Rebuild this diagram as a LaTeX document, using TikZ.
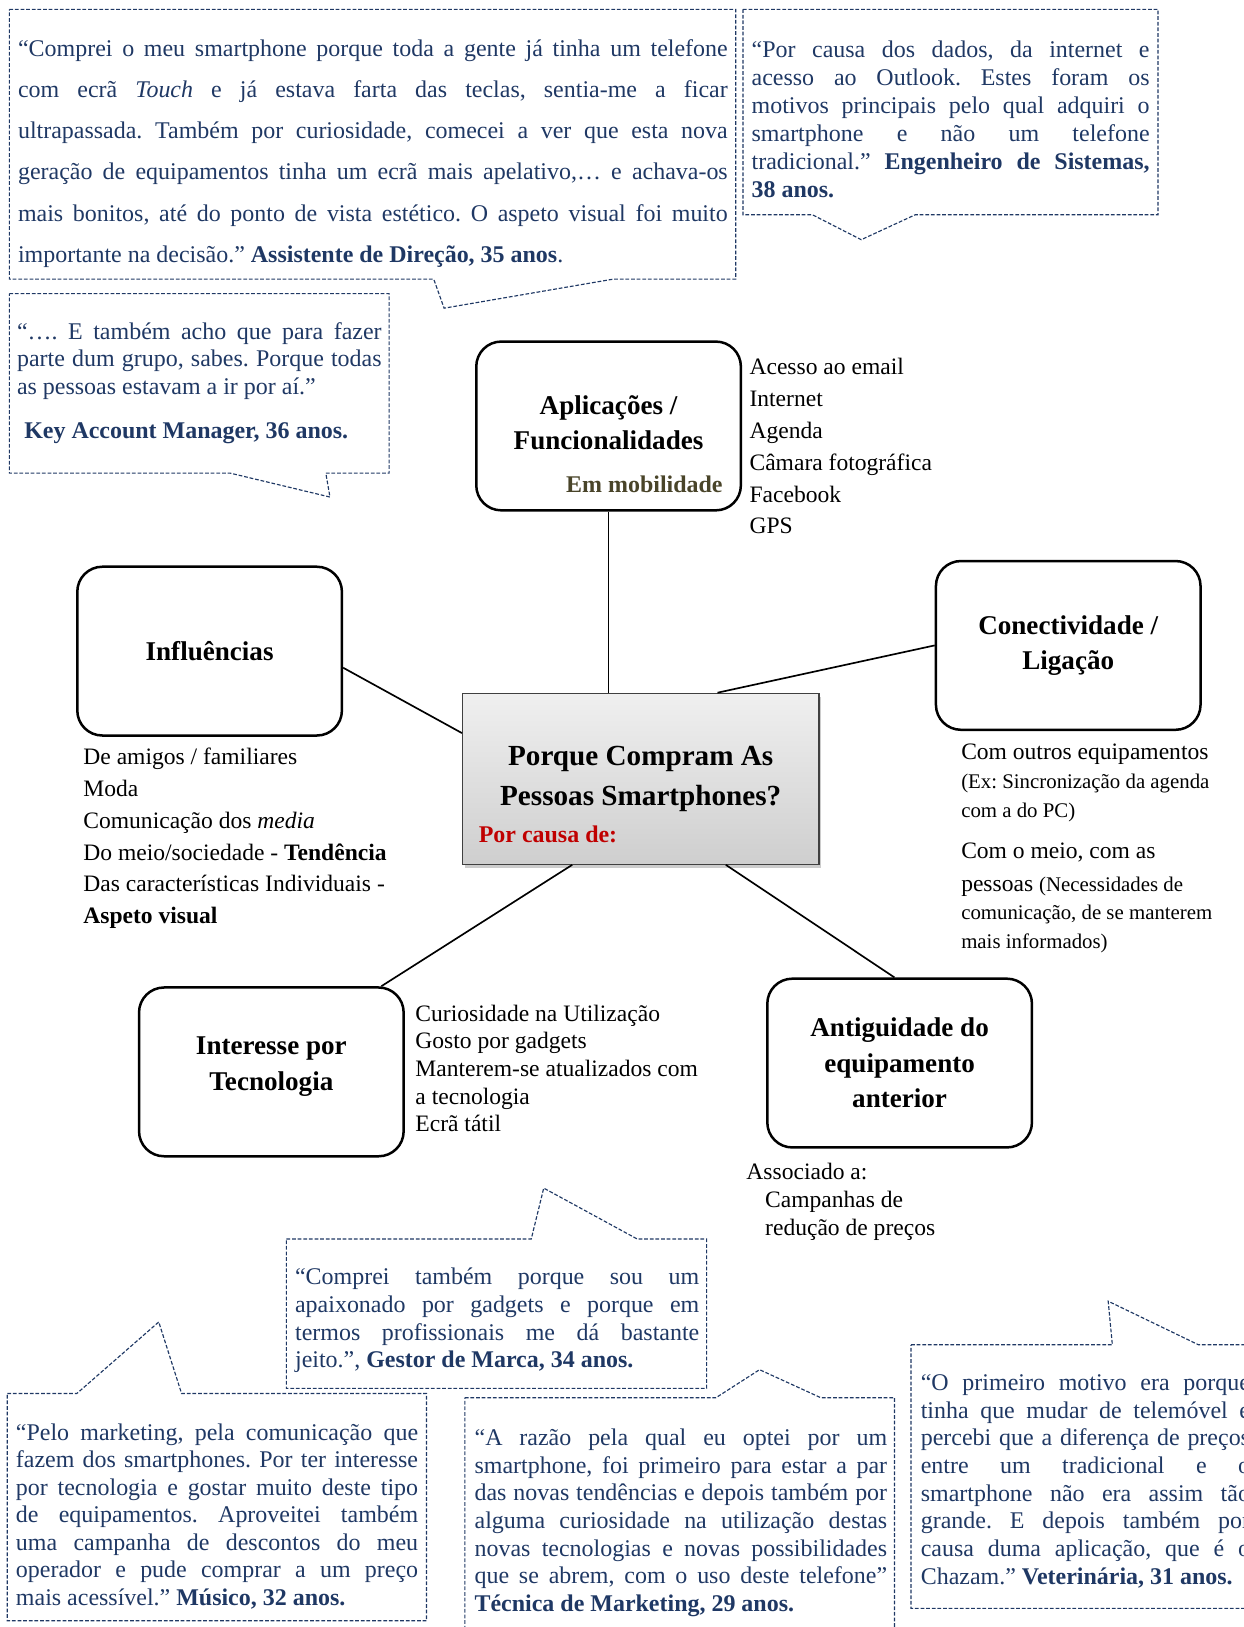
\documentclass[tikz,border=0pt]{standalone}
\usepackage{fontspec}
\setmainfont{Liberation Serif}
\usepackage{xcolor}
\usepackage{tikz}
\usetikzlibrary{positioning, shadows}
\definecolor{quoteblue}{RGB}{31,56,100}
\definecolor{olivetext}{RGB}{73,68,41}
\definecolor{causered}{RGB}{192,0,0}
\frenchspacing
\hyphenpenalty=10000
\exhyphenpenalty=10000
\hbadness=10000
\newcommand{\notefont}{\fontsize{10}{14}\selectfont}
\tikzset{
  topic/.style={draw, line width=1.2pt, rounded corners=12pt, align=center,
                font=\fontsize{13}{17}\selectfont\bfseries,
                minimum width=127pt, minimum height=81pt},
  hubbox/.style={draw=black!75, line width=0.6pt, top color=gray!12, bottom color=gray!38,
                 align=center, font=\fontsize{14}{19}\selectfont\bfseries,
                 minimum width=171pt, minimum height=82pt,
                 drop shadow={shadow xshift=1.2pt, shadow yshift=-1.6pt, opacity=0.4}},
  itemlist/.style={anchor=base west, align=flush left, inner sep=0pt, text width=200pt},
  bubble/.style={draw=quoteblue, line width=0.55pt, dash pattern=on 1.8pt off 0.9pt},
  quotetext/.style={anchor=base west, align=justify, inner sep=0pt, text=quoteblue,
                    font=\fontsize{11.5}{13.3}\selectfont},
  linkline/.style={line width=0.8pt}
}

\begin{document}
\begin{tikzpicture}[x=0.498pt, y=-0.498pt]
\useasboundingbox (0,0) rectangle (1198,1568);

% Central question
\node[hubbox] (hub) at (617.5,750.5) {Porque Compram As\\Pessoas Smartphones?};
\node[anchor=base west, inner sep=0pt, text=causered, font=\fontsize{11.5}{14}\selectfont\bfseries]
  (cause) at (461,812) {Por causa de:};

% Topics
\node[topic, text depth=3pt] (apps) at (586.5,410.5) {Aplicações /\\Funcionalidades};
\node[anchor=base, inner sep=0pt, text=olivetext, font=\fontsize{11.5}{14}\selectfont\bfseries]
  (mobil) at (621,475) {Em mobilidade};
\node[topic] (infl)     at (202,627.5)   {Influências};
\node[topic] (conect)   at (1029.5,622)  {Conectividade /\\Ligação};
\node[topic, text depth=8pt] (interest) at (261.5,1033) {Interesse por\\Tecnologia};
\node[topic] (antig)    at (867,1024.5)  {Antiguidade do\\equipamento\\anterior};

% Links
\draw[linkline] (apps.south) -- (apps.south |- hub.north);
\draw[linkline] ([shift={(0,16)}]infl.east) -- ([shift={(0,-44)}]hub.west);
\draw[linkline] (conect.west) -- ([shift={(74,0)}]hub.north);
\draw[linkline] ([shift={(106,0)}]interest.north) -- ([shift={(-66,0)}]hub.south);
\draw[linkline] ([shift={(-5,0)}]antig.north) -- ([shift={(82,0)}]hub.south);

% Topic details
\node[itemlist, font=\fontsize{11.3}{15.3}\selectfont] (appslist) at (722,361) {Acesso ao email\\Internet\\Agenda\\Câmara fotográfica\\Facebook\\GPS};
\node[itemlist, font=\fontsize{11.3}{15.25}\selectfont] (infllist) at (80,737) {De amigos / familiares\\Moda\\Comunicação dos \textit{media}\\Do meio/sociedade - \textbf{Tendência}\\Das características Individuais -\\\textbf{Aspeto visual}};
\node[itemlist, font=\fontsize{11.3}{13.8}\selectfont] (conlistA) at (926,732) {Com outros equipamentos\\{\notefont(Ex: Sincronização da agenda}\\{\notefont com a do PC)}};
\node[itemlist, font=\fontsize{11.3}{13.8}\selectfont] (conlistB) at (926,827) {Com o meio, com as\\[2pt]pessoas {\notefont(Necessidades de}\\{\notefont comunicação, de se manterem}\\{\notefont mais informados)}};
\node[itemlist, font=\fontsize{11.3}{13.3}\selectfont] (techlist) at (400,984) {Curiosidade na Utilização\\Gosto por gadgets\\Manterem-se atualizados com\\a tecnologia\\Ecrã tátil};
\node[itemlist, font=\fontsize{11.3}{13.4}\selectfont] (antiglist) at (719,1137) {Associado a:\\\hspace*{9pt}Campanhas de\\\hspace*{9pt}redução de preços};

% Quote bubbles
\draw[bubble] (9,9) -- (709,9) -- (709,269) -- (591,269) -- (428,297) -- (418,269) -- (9,269) -- cycle;
\draw[bubble] (716,9) -- (1116,9) -- (1116,207) -- (882,207) -- (830,231) -- (783,207) -- (716,207) -- cycle;
\draw[bubble] (9,283) -- (375,283) -- (375,456) -- (314,456) -- (318,479) -- (222,456) -- (9,456) -- cycle;
\draw[bubble] (276,1194) -- (512,1194) -- (524,1145) -- (614,1194) -- (681,1194) -- (681,1338) -- (276,1338) -- cycle;
\draw[bubble] (7,1343) -- (74,1343) -- (153,1274) -- (175,1343) -- (411,1343) -- (411,1562) -- (7,1562) -- cycle;
\draw[bubble] (448,1347) -- (690,1347) -- (732,1320) -- (791,1347) -- (862,1347) -- (862,1580) -- (448,1580) -- cycle;
\draw[bubble] (878,1296) -- (1072,1296) -- (1068,1254) -- (1155,1296) -- (1212,1296) -- (1212,1550) -- (878,1550) -- cycle;

% Quotes
\node[quotetext, text width=340.6pt, font=\fontsize{11.5}{19.8}\selectfont] (qassist) at (17,54) {“Comprei o meu smartphone porque toda a gente já tinha um telefone\linebreak com ecrã \textit{Touch} e já estava farta das teclas, sentia-me a ficar\linebreak ultrapassada. Também por curiosidade, comecei a ver que esta nova\linebreak geração de equipamentos tinha um ecrã mais apelativo,… e achava-os\linebreak mais bonitos, até do ponto de vista estético. O aspeto visual foi muito\linebreak importante na decisão.” \textbf{Assistente de Direção, 35 anos}.};
\node[quotetext, text width=191pt, font=\fontsize{11.5}{13.5}\selectfont] (qengineer) at (724,55) {“Por causa dos dados, da internet e\linebreak acesso ao Outlook. Estes foram os\linebreak motivos principais pelo qual adquiri o\linebreak smartphone e não um telefone\linebreak tradicional.” \textbf{Engenheiro de Sistemas,\linebreak 38 anos.}};
\node[quotetext, text width=175pt, font=\fontsize{11.5}{13.2}\selectfont] (qaccount) at (16,327) {“…. E também acho que para fazer\linebreak parte dum grupo, sabes. Porque todas\linebreak as pessoas estavam a ir por aí.”\\[8pt]\hspace*{3.5pt}\textbf{Key Account Manager, 36 anos.}};
\node[quotetext, text width=194pt] (qbrand) at (284,1238) {“Comprei também porque sou um\linebreak apaixonado por gadgets e porque em\linebreak termos profissionais me dá bastante\linebreak jeito.”, \textbf{Gestor de Marca, 34 anos.}};
\node[quotetext, text width=193pt, font=\fontsize{11.5}{13.2}\selectfont] (qmusic) at (15,1388) {“Pelo marketing, pela comunicação que\linebreak fazem dos smartphones. Por ter interesse\linebreak por tecnologia e gostar muito deste tipo\linebreak de equipamentos. Aproveitei também\linebreak uma campanha de descontos do meu\linebreak operador e pude comprar a um preço\linebreak mais acessível.” \textbf{Músico, 32 anos.}};
\node[quotetext, text width=198pt] (qmarketing) at (457,1393) {“A razão pela qual eu optei por um\linebreak smartphone, foi primeiro para estar a par\linebreak das novas tendências e depois também por\linebreak alguma curiosidade na utilização destas\linebreak novas tecnologias e novas possibilidades\linebreak que se abrem, com o uso deste telefone”\linebreak \textbf{Técnica de Marketing, 29 anos.}};
\node[quotetext, text width=158pt] (qvet) at (887,1340) {“O primeiro motivo era porque\linebreak tinha que mudar de telemóvel e\linebreak percebi que a diferença de preços\linebreak entre um tradicional e o\linebreak smartphone não era assim tão\linebreak grande. E depois também por\linebreak causa duma aplicação, que é o\linebreak Chazam.” \textbf{Veterinária, 31 anos.}};

\end{tikzpicture}
\end{document}
